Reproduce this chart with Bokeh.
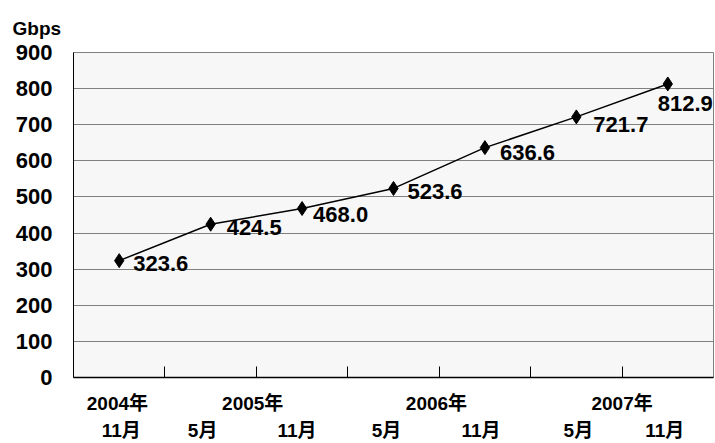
from bokeh.plotting import figure
from bokeh.models import FixedTicker, Range1d, ColumnDataSource, LinearAxis, CustomJSTickFormatter
from bokeh.core.properties import value
from bokeh.embed import file_html
from bokeh.resources import INLINE

# Backbone traffic, half-yearly readings (Gbps)
traffic = [323.6, 424.5, 468.0, 523.6, 636.6, 721.7, 812.9]
month_labels = ["11月", "5月", "11月", "5月", "11月", "5月", "11月"]
year_labels = ["2004年", "2005年", "2006年", "2007年"]
y_ticks = [0, 100, 200, 300, 400, 500, 600, 700, 800, 900]
unit_label = "Gbps"

# Layout helpers (category slots are 1 unit wide)
year_label_x = [0.48, 1.96, 3.97, 6.0]
month_label_dx = [2, -8, -5, -7, -4, 2, -3]
value_label_dx = [14, 16, 11, 14, 15, 17, -10]
value_label_dy = [3, 3.5, 5.5, 3.5, 4.5, 7.5, 19.5]

FONT = "'Liberation Sans', 'Noto Sans CJK JP', sans-serif"
n = len(traffic)
xs = [i + 0.5 for i in range(n)]
slot_px = 640 / n

src = ColumnDataSource(dict(
    x=xs, y=traffic,
    label=[f"{v:.1f}" for v in traffic],
    dx=value_label_dx, dy=value_label_dy,
))

p = figure(
    width=715, height=443,
    x_range=Range1d(0, n), y_range=Range1d(0, 900),
    output_backend="svg", toolbar_location=None,
    min_border_left=73, min_border_right=2,
    min_border_top=52, min_border_bottom=66,
)
p.background_fill_color = "#f7f7f7"
p.border_fill_color = "white"
p.outline_line_color = "#7f7f7f"
p.outline_line_width = 1

# unit label in the top-left corner
p.title.text = unit_label
p.title.align = "left"
p.title.offset = -61
p.title.standoff = 28
p.title.text_line_height = 1.0
p.title.text_font = FONT
p.title.text_font_style = "bold"
p.title.text_font_size = "19px"
p.title.text_color = "black"

# grid
p.xgrid.visible = False
p.ygrid.ticker = FixedTicker(ticks=y_ticks)
p.ygrid.grid_line_color = "#808080"
p.ygrid.grid_line_width = 1

# y axis
p.yaxis.ticker = FixedTicker(ticks=y_ticks)
p.yaxis.major_tick_out = 0
p.yaxis.major_tick_in = 0
p.yaxis.minor_tick_line_color = None
p.yaxis.axis_line_color = "black"
p.yaxis.major_label_standoff = 21
p.yaxis.major_label_text_font = FONT
p.yaxis.major_label_text_font_style = "bold"
p.yaxis.major_label_text_font_size = "22px"
p.yaxis.major_label_text_color = "black"

# x axis: separator ticks between categories only
sep = list(range(1, n))
p.xaxis.ticker = FixedTicker(ticks=sep)
p.xaxis.formatter = CustomJSTickFormatter(code="return ''")
p.xaxis.major_label_text_font_size = "1px"
p.xaxis.major_label_standoff = 0
p.xaxis.major_tick_in = 11
p.xaxis.major_tick_out = 0
p.xaxis.major_tick_line_color = "black"
p.xaxis.minor_tick_line_color = None
p.xaxis.axis_line_color = "black"
p.xaxis.axis_line_width = 1.5


def label_axis(positions, labels, standoff):
    ax = LinearAxis(
        ticker=FixedTicker(ticks=positions),
        formatter=CustomJSTickFormatter(args=dict(labels=labels), code="return labels[index]"),
        axis_line_color=None, major_tick_line_color=None, minor_tick_line_color=None,
        major_tick_in=0, major_tick_out=0,
        major_label_standoff=standoff,
        major_label_text_font=FONT, major_label_text_font_style="bold",
        major_label_text_font_size="19px", major_label_text_color="black",
    )
    p.add_layout(ax, "below")
    return ax


# year row, then month row
label_axis(year_label_x, year_labels, 15)
label_axis([x + d / slot_px for x, d in zip(xs, month_label_dx)], month_labels, 3)

# series
p.line("x", "y", source=src, line_color="black", line_width=1.5)
p.scatter("x", "y", source=src, marker="diamond", size=14,
          fill_color="black", line_color="black")
p.text("x", "y", text="label", source=src, x_offset="dx", y_offset="dy",
       text_font=value(FONT), text_font_style="bold", text_font_size="22px",
       text_color="black", text_align="left", text_baseline="middle")

open("out.html", "w").write(file_html(p, INLINE))
